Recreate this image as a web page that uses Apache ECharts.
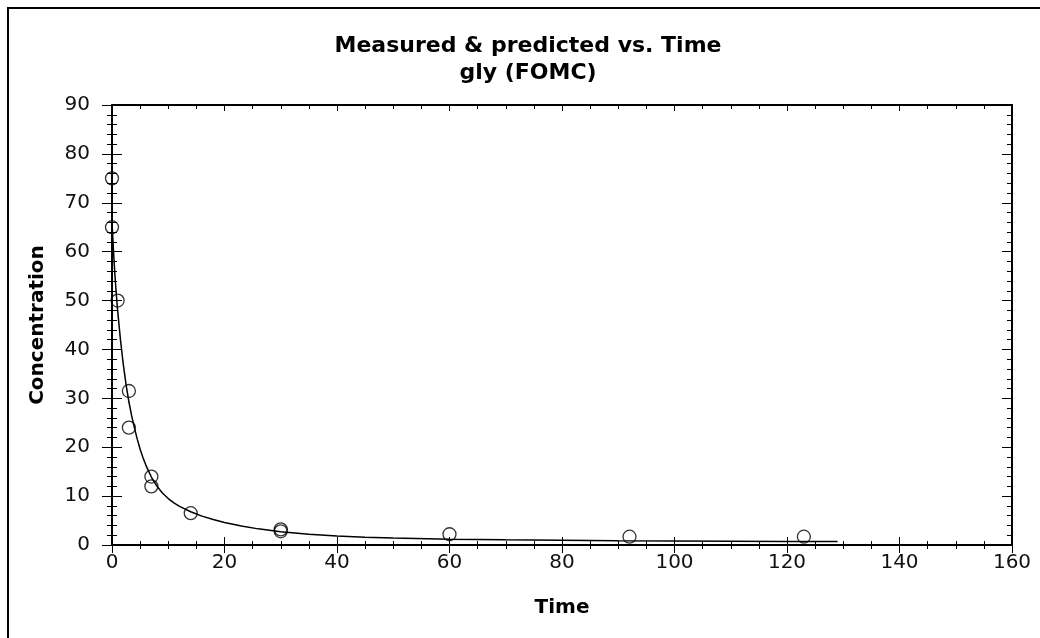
<!DOCTYPE html>
<html>
<head>
<meta charset="utf-8">
<script src="https://cdn.jsdelivr.net/npm/echarts@6/dist/echarts.min.js"></script>
<style>
html,body{margin:0;padding:0;background:#fff;}
#chart{width:1040px;height:638px;}
</style>
</head>
<body>
<div id="chart"></div>
<script>
// Measured data
const measuredTime = [0, 0, 1, 3, 3, 7, 7, 14, 30, 30, 60, 92, 123];
const measuredConc = [75, 65, 50, 31.5, 24, 14, 12, 6.5, 3.2, 2.8, 2.2, 1.7, 1.7];
// Predicted (FOMC) curve
const fitTime = [0, 0.25, 0.5, 0.75, 1, 1.5, 2, 2.5, 3, 3.5, 4, 4.5, 5, 5.5, 6, 6.5, 7, 7.5, 8, 9, 10, 11, 12, 14, 16, 18, 20, 23, 26, 30, 35, 40, 45, 50, 60, 70, 80, 90, 100, 110, 120, 129];
const fitConc = [66, 60.5, 55.5, 51.5, 48, 42, 37, 32.8, 29.3, 26.4, 23.9, 21.6, 19.6, 17.9, 16.4, 15.1, 13.9, 12.9, 12.0, 10.6, 9.5, 8.6, 7.9, 6.8, 5.9, 5.2, 4.6, 3.9, 3.3, 2.7, 2.2, 1.85, 1.6, 1.45, 1.2, 1.05, 0.95, 0.88, 0.83, 0.78, 0.74, 0.72];
// Axis settings
const xMin = 0, xMax = 160, xStep = 20;
const yMin = 0, yMax = 90, yStep = 10;
const titleText = 'Measured & predicted vs. Time\ngly (FOMC)';
const xName = 'Time';
const yName = 'Concentration';

const FONT = 'DejaVu Sans';
const black = '#000';

function xAx(extra) {
  return Object.assign({
    type: 'value', min: xMin, max: xMax, interval: xStep,
    splitLine: {show: false},
    axisLine: {show: true, onZero: false, lineStyle: {color: black, width: 2}},
    axisLabel: {show: false},
    minorSplitLine: {show: false}
  }, extra);
}
function yAx(extra) {
  return Object.assign({
    type: 'value', min: yMin, max: yMax, interval: yStep,
    splitLine: {show: false},
    axisLine: {show: true, onZero: false, lineStyle: {color: black, width: 2}},
    axisLabel: {show: false},
    minorSplitLine: {show: false}
  }, extra);
}

const chart = echarts.init(document.getElementById('chart'));
chart.setOption({
  backgroundColor: '#fff',
  animation: false,
  title: {
    text: titleText,
    left: 523, top: 28, textAlign: 'center',
    textStyle: {fontFamily: FONT, fontWeight: 'bold', fontSize: 22, lineHeight: 27, color: black}
  },
  grid: {left: 112, right: 28, top: 105, bottom: 93, containLabel: false},
  graphic: [{
    type: 'rect', silent: true, z: -10,
    shape: {x: 8, y: 8, width: 1400, height: 1400},
    style: {fill: 'none', stroke: black, lineWidth: 2}
  }],
  xAxis: [
    xAx({
      position: 'bottom',
      name: xName, nameLocation: 'middle', nameGap: 53,
      nameTextStyle: {fontFamily: FONT, fontWeight: 'bold', fontSize: 20, color: black},
      axisTick: {show: true, inside: false, length: 8, lineStyle: {color: black, width: 1}},
      minorTick: {show: true, splitNumber: 4, length: 4, lineStyle: {color: black, width: 1}},
      axisLabel: {show: true, margin: 8, fontFamily: FONT, fontSize: 20, color: '#111'}
    }),
    xAx({
      position: 'bottom',
      axisLine: {show: false},
      axisTick: {show: true, inside: true, length: 8, lineStyle: {color: black, width: 1}},
      minorTick: {show: true, splitNumber: 4, length: 4, lineStyle: {color: black, width: 1}}
    }),
    xAx({
      position: 'top',
      axisTick: {show: true, inside: true, length: 6, lineStyle: {color: black, width: 1}},
      minorTick: {show: true, splitNumber: 4, length: 4, lineStyle: {color: black, width: 1}}
    })
  ],
  yAxis: [
    yAx({
      position: 'left',
      name: yName, nameLocation: 'middle', nameGap: 64, nameRotate: 90,
      nameTextStyle: {fontFamily: FONT, fontWeight: 'bold', fontSize: 20, color: black},
      axisTick: {show: true, inside: false, length: 10, lineStyle: {color: black, width: 1}},
      minorTick: {show: true, splitNumber: 5, length: 5, lineStyle: {color: black, width: 1}},
      axisLabel: {show: true, margin: 22, fontFamily: FONT, fontSize: 20, color: '#111'}
    }),
    yAx({
      position: 'left',
      axisLine: {show: false},
      axisTick: {show: true, inside: true, length: 10, lineStyle: {color: black, width: 1}},
      minorTick: {show: true, splitNumber: 5, length: 5, lineStyle: {color: black, width: 1}}
    }),
    yAx({
      position: 'right',
      axisTick: {show: true, inside: true, length: 10, lineStyle: {color: black, width: 1}},
      minorTick: {show: true, splitNumber: 5, length: 5, lineStyle: {color: black, width: 1}}
    })
  ],
  series: [
    {
      type: 'scatter', name: 'Measured',
      xAxisIndex: 0, yAxisIndex: 0,
      data: measuredTime.map((t, i) => [t, measuredConc[i]]),
      symbol: 'circle', symbolSize: 13,
      itemStyle: {color: 'rgba(0,0,0,0)', borderColor: black, borderWidth: 1.3},
      z: 3
    },
    {
      type: 'line', name: 'Predicted',
      xAxisIndex: 0, yAxisIndex: 0,
      data: fitTime.map((t, i) => [t, fitConc[i]]),
      showSymbol: false, symbol: 'none', smooth: false,
      lineStyle: {color: black, width: 1.5},
      z: 4
    }
  ]
});
</script>
</body>
</html>
